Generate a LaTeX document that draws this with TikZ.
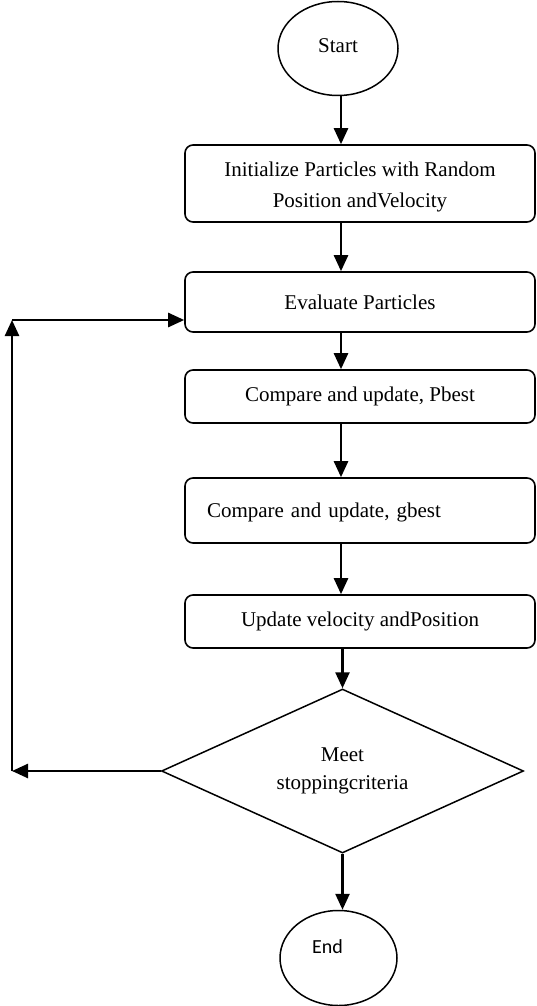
\documentclass[tikz,border=0pt]{standalone}
\usepackage{fontspec}
\setmainfont{Liberation Serif}
\newfontfamily\endfont{Carlito}
\usetikzlibrary{arrows.meta,shapes.geometric}
\begin{document}
\begin{tikzpicture}[x=1pt,y=-1pt,
  txt/.style={font=\fontsize{21}{31}\selectfont},
  box/.style={draw, rounded corners=8pt, line width=1.6pt, minimum width=350pt,
              inner sep=0pt, align=center, txt},
  term/.style={draw, ellipse, line width=1.5pt, inner sep=0pt, txt},
  decide/.style={draw, diamond, line width=1.5pt, inner sep=0pt, aspect=2.2,
                 align=center, font=\fontsize{21}{28}\selectfont},
  flow/.style={line width=2.5pt, -{Triangle[length=16pt,width=14pt]}}]
\useasboundingbox (0,0) rectangle (536,1006);

% terminals, process boxes and the decision
\node[term, minimum width=120pt, minimum height=94pt] (start) at (338,48.5)
  {\rule[-6pt]{0pt}{6pt}Start};
\node[box, minimum height=77pt] (b1) at (360,183.5)
  {\rule{0pt}{22pt}Initialize Particles with Random\\Position andVelocity};
\node[box, minimum height=60pt] (b2) at (360,302) {Evaluate Particles};
\node[box, minimum height=53pt] (b3) at (360,396.5) {Compare and update, Pbest};
\node[box, minimum height=65pt, text width=306pt, align=left, inner xsep=22pt]
  (b4) at (360,510.5) {\rule{0pt}{18pt}Compare and update, gbest};
\node[box, minimum height=53pt] (b5) at (360,621.5) {Update velocity andPosition};
\node[decide, minimum width=362pt, minimum height=164pt] (dec) at (342.5,771)
  {Meet\\stoppingcriteria};
\node[term, minimum width=117pt, minimum height=95pt] (end) at (338.5,958) {};
\node[font=\endfont\fontsize{20}{24}\selectfont, inner sep=0pt] (endtext) at (327.5,947) {End};

% main column of arrows
\coordinate (col) at (341,0);
\draw[flow] (start.south -| col) -- (b1.north -| col);
\draw[flow] (b1.south -| col) -- (b2.north -| col);
\draw[flow] (b2.south -| col) -- (b3.north -| col);
\draw[flow] (b3.south -| col) -- (b4.north -| col);
\draw[flow] (b4.south -| col) -- (b5.north -| col);
\draw[flow] (b5.south -| dec.north) -- (dec.north);
\draw[flow] (dec.south) -- (end.north -| dec.south);

% loop back to the evaluation step
\coordinate (lt) at (12,320);
\coordinate (lb) at (12,771);
\draw[flow] (dec.west) -- (lb);
\draw[flow] (lb) -- (lt);
\draw[flow] (lt) -- (lt -| b2.west);
\end{tikzpicture}
\end{document}
